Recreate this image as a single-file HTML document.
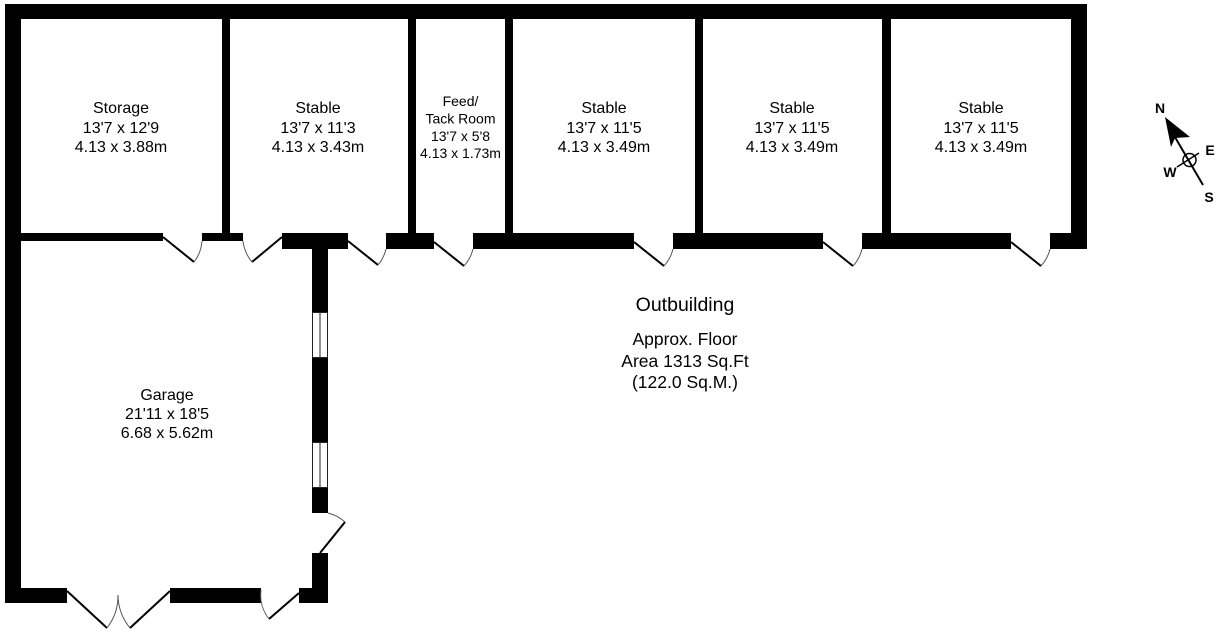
<!DOCTYPE html>
<html>
<head>
<meta charset="utf-8">
<style>
html,body{margin:0;padding:0;background:#fff;}
svg{display:block;}
text{font-family:"Liberation Sans",Arial,sans-serif;fill:#000;}
</style>
</head>
<body>
<svg width="1216" height="632" viewBox="0 0 1216 632" xmlns="http://www.w3.org/2000/svg">
<rect x="0" y="0" width="1216" height="632" fill="#fff"/>
<g fill="#000">
  <rect x="5" y="4" width="1082" height="15"/>
  <rect x="5" y="4" width="16" height="599"/>
  <rect x="1071" y="4" width="16" height="245"/>
  <rect x="222" y="19" width="8" height="222"/>
  <rect x="408" y="19" width="8" height="222"/>
  <rect x="505" y="19" width="8" height="222"/>
  <rect x="695" y="19" width="8" height="222"/>
  <rect x="882" y="19" width="9" height="222"/>
  <rect x="21" y="233" width="142" height="8"/>
  <rect x="202" y="233" width="41" height="8"/>
  <rect x="282" y="233" width="66" height="16"/>
  <rect x="386" y="233" width="48" height="16"/>
  <rect x="473" y="233" width="161" height="16"/>
  <rect x="673" y="233" width="150" height="16"/>
  <rect x="862" y="233" width="149" height="16"/>
  <rect x="1050" y="233" width="37" height="16"/>
  <rect x="312" y="233" width="16" height="79"/>
  <rect x="312" y="358" width="16" height="84"/>
  <rect x="312" y="488" width="16" height="25"/>
  <rect x="312" y="553" width="16" height="50"/>
  <rect x="5" y="588" width="62" height="15"/>
  <rect x="170" y="588" width="91" height="15"/>
  <rect x="299" y="588" width="29" height="15"/>
</g>
<g fill="#fff" stroke="#222" stroke-width="1">
  <rect x="312.5" y="312.5" width="15" height="45"/>
  <line x1="320" y1="312" x2="320" y2="358"/>
  <rect x="312.5" y="442.5" width="15" height="45"/>
  <line x1="320" y1="442" x2="320" y2="488"/>
</g>
<g stroke="#000" stroke-width="2" fill="none" stroke-linecap="butt">
  <line x1="163" y1="237" x2="194" y2="262"/>
  <line x1="282" y1="237" x2="252" y2="262"/>
  <line x1="348" y1="241" x2="378" y2="265"/>
  <line x1="434" y1="242" x2="464" y2="266"/>
  <line x1="634" y1="242" x2="664" y2="266"/>
  <line x1="823" y1="242" x2="853" y2="266"/>
  <line x1="1011" y1="242" x2="1041" y2="266"/>
  <line x1="67" y1="591" x2="107" y2="628"/>
  <line x1="170" y1="591" x2="130" y2="628"/>
  <line x1="299" y1="593" x2="269" y2="619"/>
  <line x1="320" y1="553" x2="345" y2="522"/>
</g>
<g stroke="#555" stroke-width="1" fill="none">
  <path d="M194 262 A39 39 0 0 0 202 241"/>
  <path d="M252 262 A39 39 0 0 1 243 241"/>
  <path d="M378 265 A39 39 0 0 0 386 249"/>
  <path d="M464 266 A39 39 0 0 0 473 249"/>
  <path d="M664 266 A39 39 0 0 0 673 249"/>
  <path d="M853 266 A39 39 0 0 0 862 249"/>
  <path d="M1041 266 A39 39 0 0 0 1050 249"/>
  <path d="M107 628 A53 53 0 0 0 118 595"/>
  <path d="M130 628 A53 53 0 0 1 118 595"/>
  <path d="M269 619 A39 39 0 0 1 261 590"/>
  <path d="M345 522 A40 40 0 0 0 328 513"/>
</g>
<g font-size="16" text-anchor="middle">
  <text x="121" y="113">Storage</text>
  <text x="121" y="133">13'7 x 12'9</text>
  <text x="121" y="152">4.13 x 3.88m</text>

  <text x="318" y="113">Stable</text>
  <text x="318" y="133">13'7 x 11'3</text>
  <text x="318" y="152">4.13 x 3.43m</text>

  <text x="604" y="113">Stable</text>
  <text x="604" y="133">13'7 x 11'5</text>
  <text x="604" y="152">4.13 x 3.49m</text>

  <text x="792" y="113">Stable</text>
  <text x="792" y="133">13'7 x 11'5</text>
  <text x="792" y="152">4.13 x 3.49m</text>

  <text x="981" y="113">Stable</text>
  <text x="981" y="133">13'7 x 11'5</text>
  <text x="981" y="152">4.13 x 3.49m</text>

  <text x="167" y="400">Garage</text>
  <text x="167" y="419">21'11 x 18'5</text>
  <text x="167" y="438">6.68 x 5.62m</text>
</g>
<g font-size="14" text-anchor="middle">
  <text x="460.5" y="106">Feed/</text>
  <text x="460.5" y="123.5">Tack Room</text>
  <text x="460.5" y="141">13'7 x 5'8</text>
  <text x="460.5" y="158">4.13 x 1.73m</text>
</g>
<g text-anchor="middle">
  <text x="685" y="311" font-size="19.5">Outbuilding</text>
  <text x="685" y="345" font-size="17.5">Approx. Floor</text>
  <text x="685" y="367" font-size="17.5">Area 1313 Sq.Ft</text>
  <text x="685" y="388" font-size="17.5">(122.0 Sq.M.)</text>
</g>
<g>
  <polygon points="1165,117 1171,147 1175,138 1190,137" fill="#000"/>
  <line x1="1172" y1="132" x2="1203" y2="185" stroke="#000" stroke-width="2"/>
  <circle cx="1189.5" cy="160" r="6.5" fill="none" stroke="#000" stroke-width="1.5"/>
  <line x1="1177" y1="167" x2="1199" y2="153" stroke="#000" stroke-width="1.5"/>
  <g font-size="14" font-weight="bold" text-anchor="middle">
    <text x="1160" y="113">N</text>
    <text x="1210" y="155">E</text>
    <text x="1170" y="177">W</text>
    <text x="1209" y="202">S</text>
  </g>
</g>
</svg>
</body>
</html>
